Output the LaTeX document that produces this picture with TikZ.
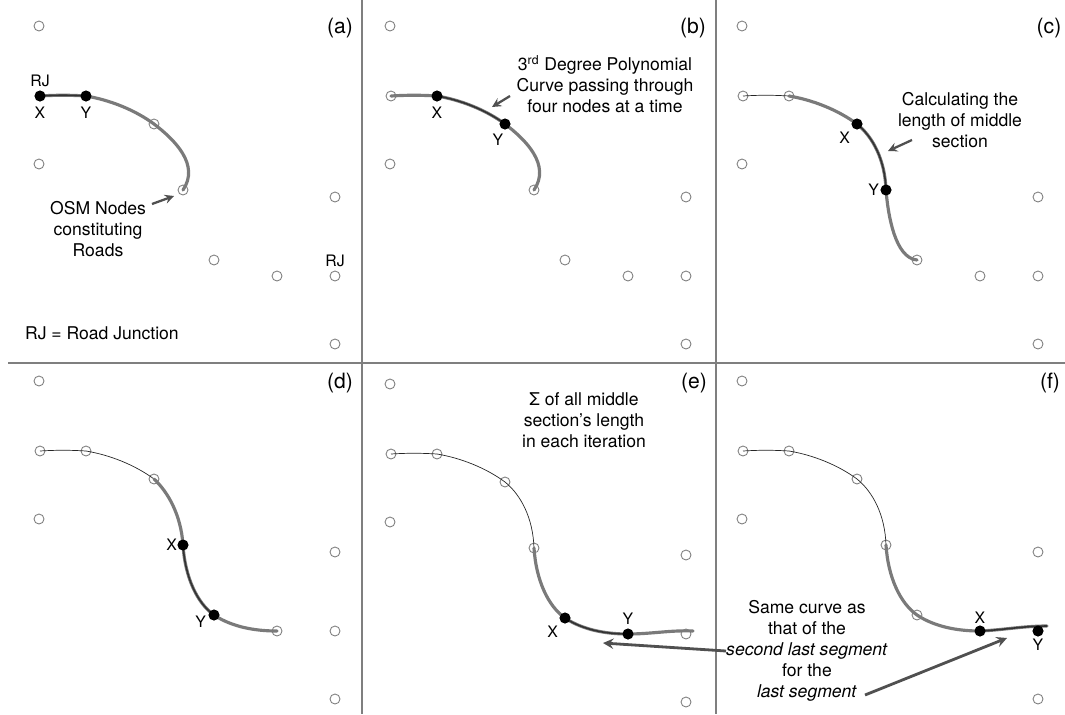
\documentclass[tikz,border=0pt]{standalone}
\usepackage{fontspec}
\setmainfont{TeX Gyre Heros}
\usepackage{tikz}
\usetikzlibrary{arrows, positioning}
\definecolor{roadgray}{HTML}{7A7A7A}
\definecolor{nodegray}{HTML}{7F7F7F}
\definecolor{arrowgray}{HTML}{505050}
\definecolor{framegray}{HTML}{7F7F7F}
\tikzset{
    osmnode/.style = {circle, draw=nodegray, line width=0.5pt, inner sep=0pt, minimum size=0.2cm},
    xynode/.style = {circle, fill=black, inner sep=0pt, minimum size=0.22cm},
    road/.style = {draw=roadgray, line width=1.8pt, line cap=round},
    roaddone/.style = {draw=black!85, line width=0.4pt},
    roadmid/.style = {draw=black!80, line width=0.9pt},
    arrow/.style = {line width=1.3pt, ->, >=stealth, draw=arrowgray},
    bigarrow/.style = {line width=1.6pt, ->, >=stealth, draw=arrowgray},
    frame/.style = {draw=framegray, line width=0.9pt},
    note/.style = {align=center, inner sep=1pt, font=\fontsize{10}{12}\selectfont},
    lbl/.style = {inner sep=1pt, font=\fontsize{9}{11}\selectfont},
    panel/.style = {inner sep=0pt, font=\fontsize{12}{14}\selectfont}
}
\begin{document}
\begin{tikzpicture}[x=0.02cm, y=-0.02cm]
    \useasboundingbox (0,0) rectangle (1065,714);
    % Frames
    \draw [frame] (362,0) -- (362,714);
    \draw [frame] (716,0) -- (716,714);
    \draw [frame] (8,363) -- (1065,363);

    % OSM nodes
    \foreach \p/\dx/\dy in {a/0/0, b/351/0, c/703/0, d/0/355, e/351/358, f/703/355}
        \foreach \n/\x/\y in {1/39/26, 2/40/96, 3/86/96, 4/154/124, 5/39/164, 6/183/190,
                              7/335/197, 8/214/260, 9/277/276, 10/335/276, 11/335/344}
            \node [osmnode] (\p\n) at (\x+\dx,\y+\dy) {};

    % Panel tags
    \node [panel] (taga) at (340,28) {(a)};
    \node [panel] (tagb) at (693,28) {(b)};
    \node [panel] (tagc) at (1049,28) {(c)};
    \node [panel] (tagd) at (340,383) {(d)};
    \node [panel] (tage) at (694,383) {(e)};
    \node [panel] (tagf) at (1050,383) {(f)};

    % (a)
    \draw [road] (a2.center) .. controls (56,95) and (70,95) .. (a3.center)
        .. controls (110,100) and (135,110) .. (a4.center)
        .. controls (175,140) and (200,165) .. (a6.center);
    \draw [roadmid] (a2.center) .. controls (56,95) and (70,95) .. (a3.center);
    \node [xynode] (ax) at (a2) {};
    \node [xynode] (ay) at (a3) {};
    \node [lbl, above=1pt of ax] (arj) {RJ};
    \node [lbl, below=1.5pt of ax] (axl) {X};
    \node [lbl, below=1.5pt of ay] (ayl) {Y};
    \node [lbl, above=1pt of a10] (arj2) {RJ};
    \node [note] (osmnote) at (98,229) {OSM Nodes\\constituting\\Roads};
    \node [note, anchor=west] (rjnote) at (23,333) {RJ = Road Junction};
    \coordinate (osmtail) at (152,204);
    \coordinate (osmtip) at (174,196);
    \draw [arrow] (osmtail) -- (osmtip);

    % (b)
    \begin{scope}[shift={(351,0)}]
        \draw [road] (b2.center) .. controls (56,95) and (70,95) .. (b3.center)
            .. controls (110,100) and (135,110) .. (b4.center)
            .. controls (175,140) and (200,165) .. (b6.center);
        \draw [roadmid] (b3.center) .. controls (110,100) and (135,110) .. (b4.center);
        \node [xynode] (bx) at (b3) {};
        \node [xynode] (by) at (b4) {};
        \node [lbl, below=1.5pt of bx] (bxl) {X};
        \node [lbl, below=1pt of by, xshift=-4pt] (byl) {Y};
        \node [note] (polynote) at (254,84) {3\textsuperscript{rd} Degree Polynomial\\Curve passing through\\four nodes at a time};
        \coordinate (polytail) at (159,96);
        \coordinate (polytip) at (141,107);
        \draw [arrow] (polytail) -- (polytip);
    \end{scope}

    % (c)
    \begin{scope}[shift={(703,0)}]
        \draw [roaddone] (c2.center) .. controls (56,95) and (70,95) .. (c3.center);
        \draw [road] (c3.center) .. controls (110,100) and (135,110) .. (c4.center)
            .. controls (170,137) and (182,160) .. (c6.center)
            .. controls (185,215) and (192,258) .. (c8.center);
        \draw [roadmid] (c4.center) .. controls (170,137) and (182,160) .. (c6.center);
        \node [xynode] (cx) at (c4) {};
        \node [xynode] (cy) at (c6) {};
        \node [lbl, below=0pt of cx, xshift=-7pt] (cxl) {X};
        \node [lbl, left=-0.5pt of cy] (cyl) {Y};
        \node [note] (lennote) at (257,120) {Calculating the\\length of middle\\section};
        \coordinate (lentail) at (209,140);
        \coordinate (lentip) at (185,151);
        \draw [arrow] (lentail) -- (lentip);
    \end{scope}

    % (d)
    \begin{scope}[shift={(0,355)}]
        \draw [roaddone] (d2.center) .. controls (56,95) and (70,95) .. (d3.center)
            .. controls (110,100) and (135,110) .. (d4.center);
        \draw [road] (d4.center) .. controls (168,137) and (181,160) .. (d6.center)
            .. controls (185,222) and (197,248) .. (d8.center)
            .. controls (232,272) and (255,276) .. (d9.center);
        \draw [roadmid] (d6.center) .. controls (185,222) and (197,248) .. (d8.center);
        \node [xynode] (dx) at (d6) {};
        \node [xynode] (dy) at (d8) {};
        \node [lbl, left=-1pt of dx] (dxl) {X};
        \node [lbl, left=0pt of dy, yshift=-4pt] (dyl) {Y};
    \end{scope}

    % (e)
    \begin{scope}[shift={(351,358)}]
        \draw [roaddone] (e2.center) .. controls (56,95) and (70,95) .. (e3.center)
            .. controls (110,100) and (135,110) .. (e4.center)
            .. controls (170,137) and (182,160) .. (e6.center);
        \coordinate (eend) at (342,273);
        \draw [road] (e6.center) .. controls (185,222) and (197,248) .. (e8.center)
            .. controls (232,272) and (255,276) .. (e9.center)
            .. controls (300,276) and (320,272) .. (eend);
        \draw [roadmid] (e8.center) .. controls (232,272) and (255,276) .. (e9.center);
        \node [xynode] (ex) at (e8) {};
        \node [xynode] (ey) at (e9) {};
        \node [lbl, below=0pt of ex, xshift=-7pt] (exl) {X};
        \node [lbl, above=1pt of ey] (eyl) {Y};
        \node [note] (sumnote) at (233,62) {Σ of all middle\\section’s length\\in each iteration};
    \end{scope}

    % (f)
    \begin{scope}[shift={(703,355)}]
        \draw [roaddone] (f2.center) .. controls (56,95) and (70,95) .. (f3.center)
            .. controls (110,100) and (135,110) .. (f4.center)
            .. controls (170,137) and (182,160) .. (f6.center);
        \coordinate (fend) at (344,271);
        \draw [road] (f6.center) .. controls (185,222) and (197,248) .. (f8.center)
            .. controls (232,272) and (255,276) .. (f9.center);
        \draw [road] (f9.center) .. controls (300,275) and (320,271) .. (fend);
        \draw [roadmid] (f9.center) .. controls (300,275) and (320,271) .. (fend);
        \node [xynode] (fx) at (f9) {};
        \node [xynode] (fy) at (f10) {};
        \node [lbl, above=0pt of fx] (fxl) {X};
        \node [lbl, below=0pt of fy] (fyl) {Y};
        \node [note] (samenote) at (104,296) {Same curve as\\that of the\\\textit{second last segment}\\for the\\\textit{last segment}};
        \coordinate (sametail) at (23,296);
        \coordinate (lasttail) at (162,340);
        \coordinate (lasttip) at (304,283);
    \end{scope}

    %Arrows
    \coordinate (sametip) at (603,643);
    \draw [bigarrow] (sametail) -- (sametip);
    \draw [bigarrow] (lasttail) -- (lasttip);
\end{tikzpicture}
\end{document}
